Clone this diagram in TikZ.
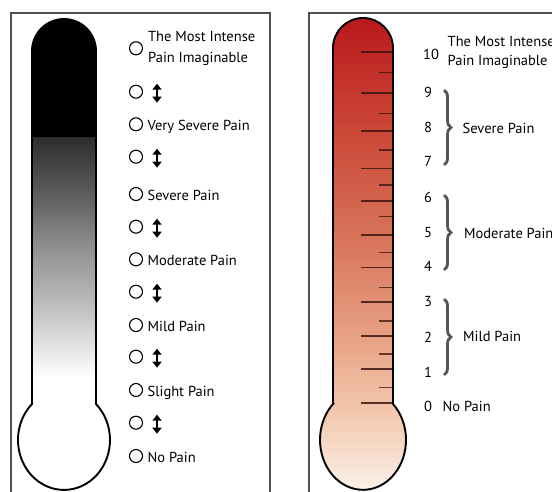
\documentclass[tikz,border=0pt]{standalone}
\usepackage{fontspec}
\setmainfont{PT Sans}
\usetikzlibrary{decorations.pathreplacing,arrows.meta}
\definecolor{framec}{RGB}{80,80,80}
\definecolor{g1}{RGB}{224,224,224}
\definecolor{g2}{RGB}{187,187,187}
\definecolor{g3}{RGB}{140,140,140}
\definecolor{g4}{RGB}{100,100,100}
\definecolor{g5}{RGB}{45,45,45}
\definecolor{r0}{RGB}{185,25,28}
\definecolor{r1}{RGB}{203,72,55}
\definecolor{r2}{RGB}{215,115,90}
\definecolor{r3}{RGB}{232,162,133}
\definecolor{r4}{RGB}{242,198,172}
\definecolor{r5}{RGB}{247,222,205}
\definecolor{r6}{RGB}{252,244,238}
\definecolor{tickc}{RGB}{55,18,10}
\definecolor{bracec}{RGB}{85,85,85}
\pgfdeclareverticalshading{greythermo}{100bp}{color(0bp)=(white); color(37.4bp)=(white); color(40.9bp)=(g1); color(45.2bp)=(g2); color(51.5bp)=(g3); color(55.8bp)=(g4); color(62.6bp)=(g5); color(62.7bp)=(black); color(100bp)=(black)}
\pgfdeclareverticalshading{redthermo}{100bp}{color(0bp)=(r6); color(25bp)=(r6); color(29.2bp)=(r5); color(34.1bp)=(r4); color(41.4bp)=(r3); color(52bp)=(r2); color(63.1bp)=(r1); color(75bp)=(r0); color(100bp)=(r0)}
\tikzset{
  outline/.style={draw=black, line width=1.9pt},
  framebox/.style={draw=framec, line width=1.5pt},
  radio/.style={circle, draw=black, line width=1.1pt, minimum size=13pt, inner sep=0pt},
  lbl/.style={anchor=base west, inner sep=0pt},
  num/.style={anchor=base, inner sep=0pt},
  dblarrow/.style={line width=2.8pt, {Triangle[width=9pt,length=6pt]}-{Triangle[width=9pt,length=6pt]}},
  majortick/.style={draw=tickc, draw opacity=0.82, line width=1.6pt},
  minortick/.style={draw=tickc, draw opacity=0.75, line width=1.3pt},
  bracestyle/.style={draw=bracec, line width=2.8pt, decorate, decoration={brace, amplitude=7pt}}
}
\begin{document}
\begin{tikzpicture}[x=1pt,y=-1pt, font=\fontsize{14.5}{16}\selectfont]
\useasboundingbox (0,0) rectangle (552,491);
\clip (0,0) rectangle (552,491);
% frames
\draw[framebox] (11,13) rectangle (270,500);
\draw[framebox] (309,500) -- (309,13) -- (560,13);
% left thermometer
\shade[shading=greythermo] (32,404) -- (32,51) arc[start angle=180,end angle=360,radius=32] -- (96,404) arc[start angle=-45.9,end angle=225.9,x radius=46,y radius=50] -- cycle;
\draw[outline] (32,404) -- (32,51) arc[start angle=180,end angle=360,radius=32] -- (96,404) arc[start angle=-45.9,end angle=225.9,x radius=46,y radius=50] -- cycle;
% left scale
\node[radio] (c0) at (136,48.3) {};
\node[lbl] (t0a) at (148,41.7) {The Most Intense};
\node[lbl] (t0b) at (148,62.5) {Pain Imaginable};
\foreach \y/\t [count=\i] in {124.3/Very Severe Pain,194/Severe Pain,259.3/Moderate Pain,325/Mild Pain,390/Slight Pain,456/No Pain}{
  \node[radio] (cl\i) at (136,\y) {};
  \node[lbl] (tl\i) at (147.5,\y+6) {\t};
}
\foreach \y [count=\i] in {91.7,156.7,226.7,291.7,356.7,422.7}{
  \node[radio] (ca\i) at (136,\y) {};
  \coordinate (aa\i) at (157,\y-8);
  \coordinate (ab\i) at (157,\y+11);
  \draw[dblarrow] (aa\i) -- (ab\i);
}
% right thermometer
\shade[shading=redthermo] (333,404) -- (333,48) arc[start angle=180,end angle=360,radius=30] -- (393,404) arc[start angle=-45.77,end angle=225.77,x radius=43,y radius=50] -- cycle;
\foreach \y in {51.7,92.7,130.7,168.3,200.7,235,267.3,301.7,336,368.7,402.7}{
  \draw[majortick] (361,\y) -- (393,\y);
}
\foreach \y in {72.7,113.3,150,185,216.7,252.7,287.3,321,354,387.7}{
  \draw[minortick] (379,\y) -- (393,\y);
}
\draw[outline] (333,404) -- (333,48) arc[start angle=180,end angle=360,radius=30] -- (393,404) arc[start angle=-45.77,end angle=225.77,x radius=43,y radius=50] -- cycle;
% numbers
\node[num] (n10) at (431,59.7) {10};
\foreach \n/\y in {9/93,8/128,7/162,6/198,5/233,4/267,3/302,2/338,1/373,0/407}{
  \node[num] (n\n) at (428,\y+4.7) {\n};
}
% braces
\coordinate (b1a) at (444,90); \coordinate (b1b) at (444,165);
\coordinate (b2a) at (444,195); \coordinate (b2b) at (444,270);
\coordinate (b3a) at (444,299); \coordinate (b3b) at (444,375);
\draw[bracestyle] (b1a) -- (b1b);
\draw[bracestyle] (b2a) -- (b2b);
\draw[bracestyle] (b3a) -- (b3b);
% right labels
\node[lbl] (r0a) at (447.5,46.7) {The Most Intense};
\node[lbl] (r0b) at (447.5,65.7) {Pain Imaginable};
\node[lbl] (r1) at (462.5,133.3) {Severe Pain};
\node[lbl] (r2) at (464,238.3) {Moderate Pain};
\node[lbl] (r3) at (463,341.7) {Mild Pain};
\node[lbl] (r4) at (442.5,411.7) {No Pain};
\end{tikzpicture}
\end{document}
